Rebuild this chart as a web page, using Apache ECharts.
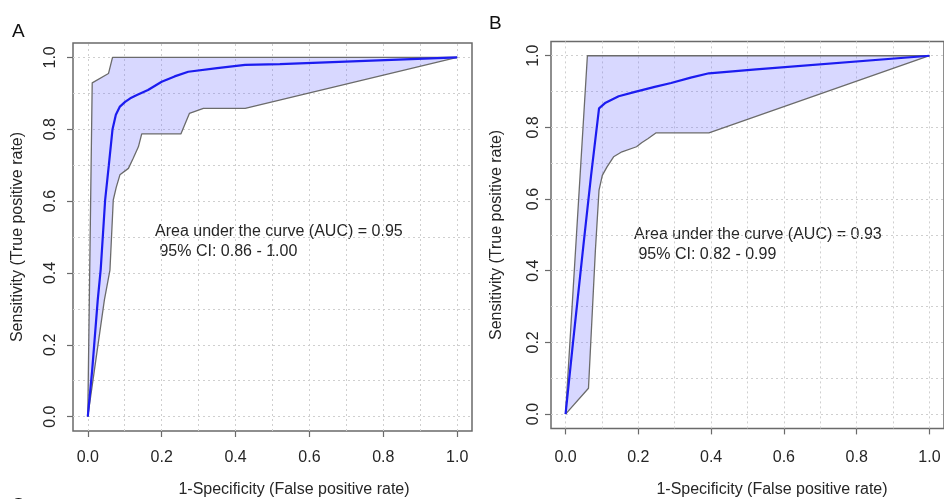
<!DOCTYPE html>
<html>
<head>
<meta charset="utf-8">
<script src="https://cdn.jsdelivr.net/npm/echarts@6/dist/echarts.min.js"></script>
<style>
  html, body { margin: 0; padding: 0; background: #ffffff; }
  #chart { width: 944px; height: 499px; }
</style>
</head>
<body>
<div id="chart"></div>
<script>
// Axis ticks / grid positions (both panels share them)
const tickValues = [0, 0.2, 0.4, 0.6, 0.8, 1.0];
const gridValues = [0, 0.1, 0.2, 0.3, 0.4, 0.5, 0.6, 0.7, 0.8, 0.9, 1.0];

// Panel A: ROC curve (1-specificity, sensitivity)
const rocA_fpr = [0, 0.012, 0.027, 0.035, 0.047, 0.057, 0.067, 0.076, 0.087, 0.101, 0.115, 0.133, 0.163, 0.200, 0.235, 0.272, 0.350, 0.426, 0.520, 1.0];
const rocA_tpr = [0, 0.130, 0.325, 0.410, 0.603, 0.700, 0.800, 0.840, 0.863, 0.876, 0.886, 0.895, 0.909, 0.932, 0.947, 0.960, 0.970, 0.979, 0.981, 1.0];
// Panel A: 95% CI band edges
const ciA_upper_fpr = [0, 0.012, 0.056, 0.067, 1.0];
const ciA_upper_tpr = [0, 0.929, 0.955, 1.0, 1.0];
const ciA_lower_fpr = [0, 0.045, 0.060, 0.069, 0.077, 0.087, 0.110, 0.123, 0.137, 0.146, 0.252, 0.275, 0.313, 0.426, 1.0];
const ciA_lower_tpr = [0, 0.325, 0.408, 0.603, 0.638, 0.673, 0.691, 0.719, 0.751, 0.787, 0.787, 0.844, 0.858, 0.858, 1.0];
const aucA = '0.95';
const ciA = '0.86 - 1.00';

// Panel B: ROC curve
const rocB_fpr = [0, 0.020, 0.049, 0.070, 0.092, 0.110, 0.146, 0.191, 0.245, 0.290, 0.344, 0.394, 0.524, 1.0];
const rocB_tpr = [0, 0.195, 0.470, 0.665, 0.853, 0.869, 0.887, 0.899, 0.913, 0.924, 0.939, 0.951, 0.962, 1.0];
// Panel B: 95% CI band edges
const ciB_upper_fpr = [0, 0.060, 1.0];
const ciB_upper_tpr = [0, 1.0, 1.0];
const ciB_lower_fpr = [0, 0.063, 0.082, 0.092, 0.101, 0.114, 0.132, 0.155, 0.195, 0.209, 0.227, 0.249, 0.394, 1.0];
const ciB_lower_tpr = [0, 0.072, 0.457, 0.625, 0.666, 0.690, 0.718, 0.732, 0.746, 0.757, 0.769, 0.785, 0.785, 1.0];
const aucB = '0.93';
const ciB = '0.82 - 0.99';

const xTitle = '1-Specificity (False positive rate)';
const yTitle = 'Sensitivity (True positive rate)';

const FONT = '"Liberation Sans", Arial, Helvetica, sans-serif';
const TXT = '#262626';
const FRAME = '#6a6a6a';

const zip = (xs, ys) => xs.map((x, i) => [x, ys[i]]);

const panels = [
  { box: { left: 73, top: 43, width: 399, height: 388 },
    xMargin: 19, yMargin: 14, yGap: 47,
    roc: zip(rocA_fpr, rocA_tpr), up: zip(ciA_upper_fpr, ciA_upper_tpr), lo: zip(ciA_lower_fpr, ciA_lower_tpr),
    auc: aucA, ci: ciA },
  { box: { left: 551, top: 41.4, width: 400, height: 387 },
    xMargin: 21.5, yMargin: 9.5, yGap: 46,
    roc: zip(rocB_fpr, rocB_tpr), up: zip(ciB_upper_fpr, ciB_upper_tpr), lo: zip(ciB_lower_fpr, ciB_lower_tpr),
    auc: aucB, ci: ciB }
];

const grids = [], xAxes = [], yAxes = [], series = [];

panels.forEach((p, i) => {
  grids.push(Object.assign({ show: true, borderColor: FRAME, borderWidth: 1.5, backgroundColor: 'transparent' }, p.box));
  const common = {
    type: 'value', gridIndex: i, min: -0.04, max: 1.04,
    axisLine: { show: false, onZero: false },
    splitLine: { show: false },
    axisTick: { show: true, inside: false, customValues: tickValues, length: 6, lineStyle: { color: FRAME, width: 1.2 } }
  };
  xAxes.push(Object.assign({}, common, {
    position: 'bottom',
    axisLabel: { customValues: tickValues, margin: p.xMargin, fontSize: 16, color: TXT, fontFamily: FONT,
                 formatter: v => v.toFixed(1) }
  }));
  yAxes.push(Object.assign({}, common, {
    position: 'left',
    name: yTitle, nameLocation: 'middle', nameGap: p.yGap,
    nameTextStyle: { fontSize: 16, color: TXT, fontFamily: FONT },
    axisLabel: { customValues: tickValues, margin: p.yMargin, rotate: 90, fontSize: 16, color: TXT, fontFamily: FONT,
                 formatter: v => v.toFixed(1) }
  }));

  // dotted reference grid, kept underneath the curves
  series.push({
    type: 'line', xAxisIndex: i, yAxisIndex: i, data: [], silent: true, z: 1,
    markLine: {
      z: 1, silent: true, symbol: ['none', 'none'], animation: false,
      label: { show: false },
      lineStyle: { type: [2, 3], color: '#cfcfcf', width: 1 },
      emphasis: { disabled: true },
      data: gridValues.map(v => ({ xAxis: v })).concat(gridValues.map(v => ({ yAxis: v })))
    }
  });

  // confidence band
  const up = p.up, lo = p.lo;
  series.push({
    type: 'custom', xAxisIndex: i, yAxisIndex: i, data: [[0, 0]], z: 2, silent: true,
    renderItem: (params, api) => {
      const pts = up.map(d => api.coord(d)).concat(lo.slice().reverse().map(d => api.coord(d)));
      return { type: 'polygon', shape: { points: pts }, style: { fill: 'rgba(110,110,255,0.27)' } };
    }
  });

  [up, lo].forEach(edge => series.push({
    type: 'line', xAxisIndex: i, yAxisIndex: i, data: edge, symbol: 'none', z: 3, silent: true,
    lineStyle: { color: '#6b6b6b', width: 1.3 }
  }));

  series.push({
    type: 'line', xAxisIndex: i, yAxisIndex: i, data: p.roc, symbol: 'none', z: 4, silent: true,
    lineStyle: { color: '#1c1cf0', width: 2.2 }
  });
});

const textStyle = { fontSize: 16, fill: TXT, fontFamily: FONT };

const option = {
  animation: false,
  backgroundColor: '#ffffff',
  grid: grids,
  xAxis: xAxes,
  yAxis: yAxes,
  series: series,
  graphic: [
    { type: 'text', left: 12, top: 22, style: { text: 'A', fontSize: 19, fill: '#111', fontFamily: FONT } },
    { type: 'text', left: 489, top: 14, style: { text: 'B', fontSize: 19, fill: '#111', fontFamily: FONT } },
    { type: 'text', left: 11, top: 496, style: { text: 'C', fontSize: 19, fill: '#111', fontFamily: FONT } },
    { type: 'text', x: 294, y: 490, style: Object.assign({ text: xTitle, align: 'center', verticalAlign: 'middle' }, textStyle) },
    { type: 'text', x: 772, y: 490, style: Object.assign({ text: xTitle, align: 'center', verticalAlign: 'middle' }, textStyle) },
    { type: 'text', x: 155, y: 222, style: Object.assign({
        text: 'Area under the curve (AUC) = ' + aucA + '\n 95% CI: ' + ciA, lineHeight: 20, align: 'left', verticalAlign: 'top' }, textStyle) },
    { type: 'text', x: 634, y: 225, style: Object.assign({
        text: 'Area under the curve (AUC) = ' + aucB + '\n 95% CI: ' + ciB, lineHeight: 20, align: 'left', verticalAlign: 'top' }, textStyle) }
  ]
};

const chart = echarts.init(document.getElementById('chart'), null, { renderer: 'canvas' });
chart.setOption(option);
</script>
</body>
</html>
